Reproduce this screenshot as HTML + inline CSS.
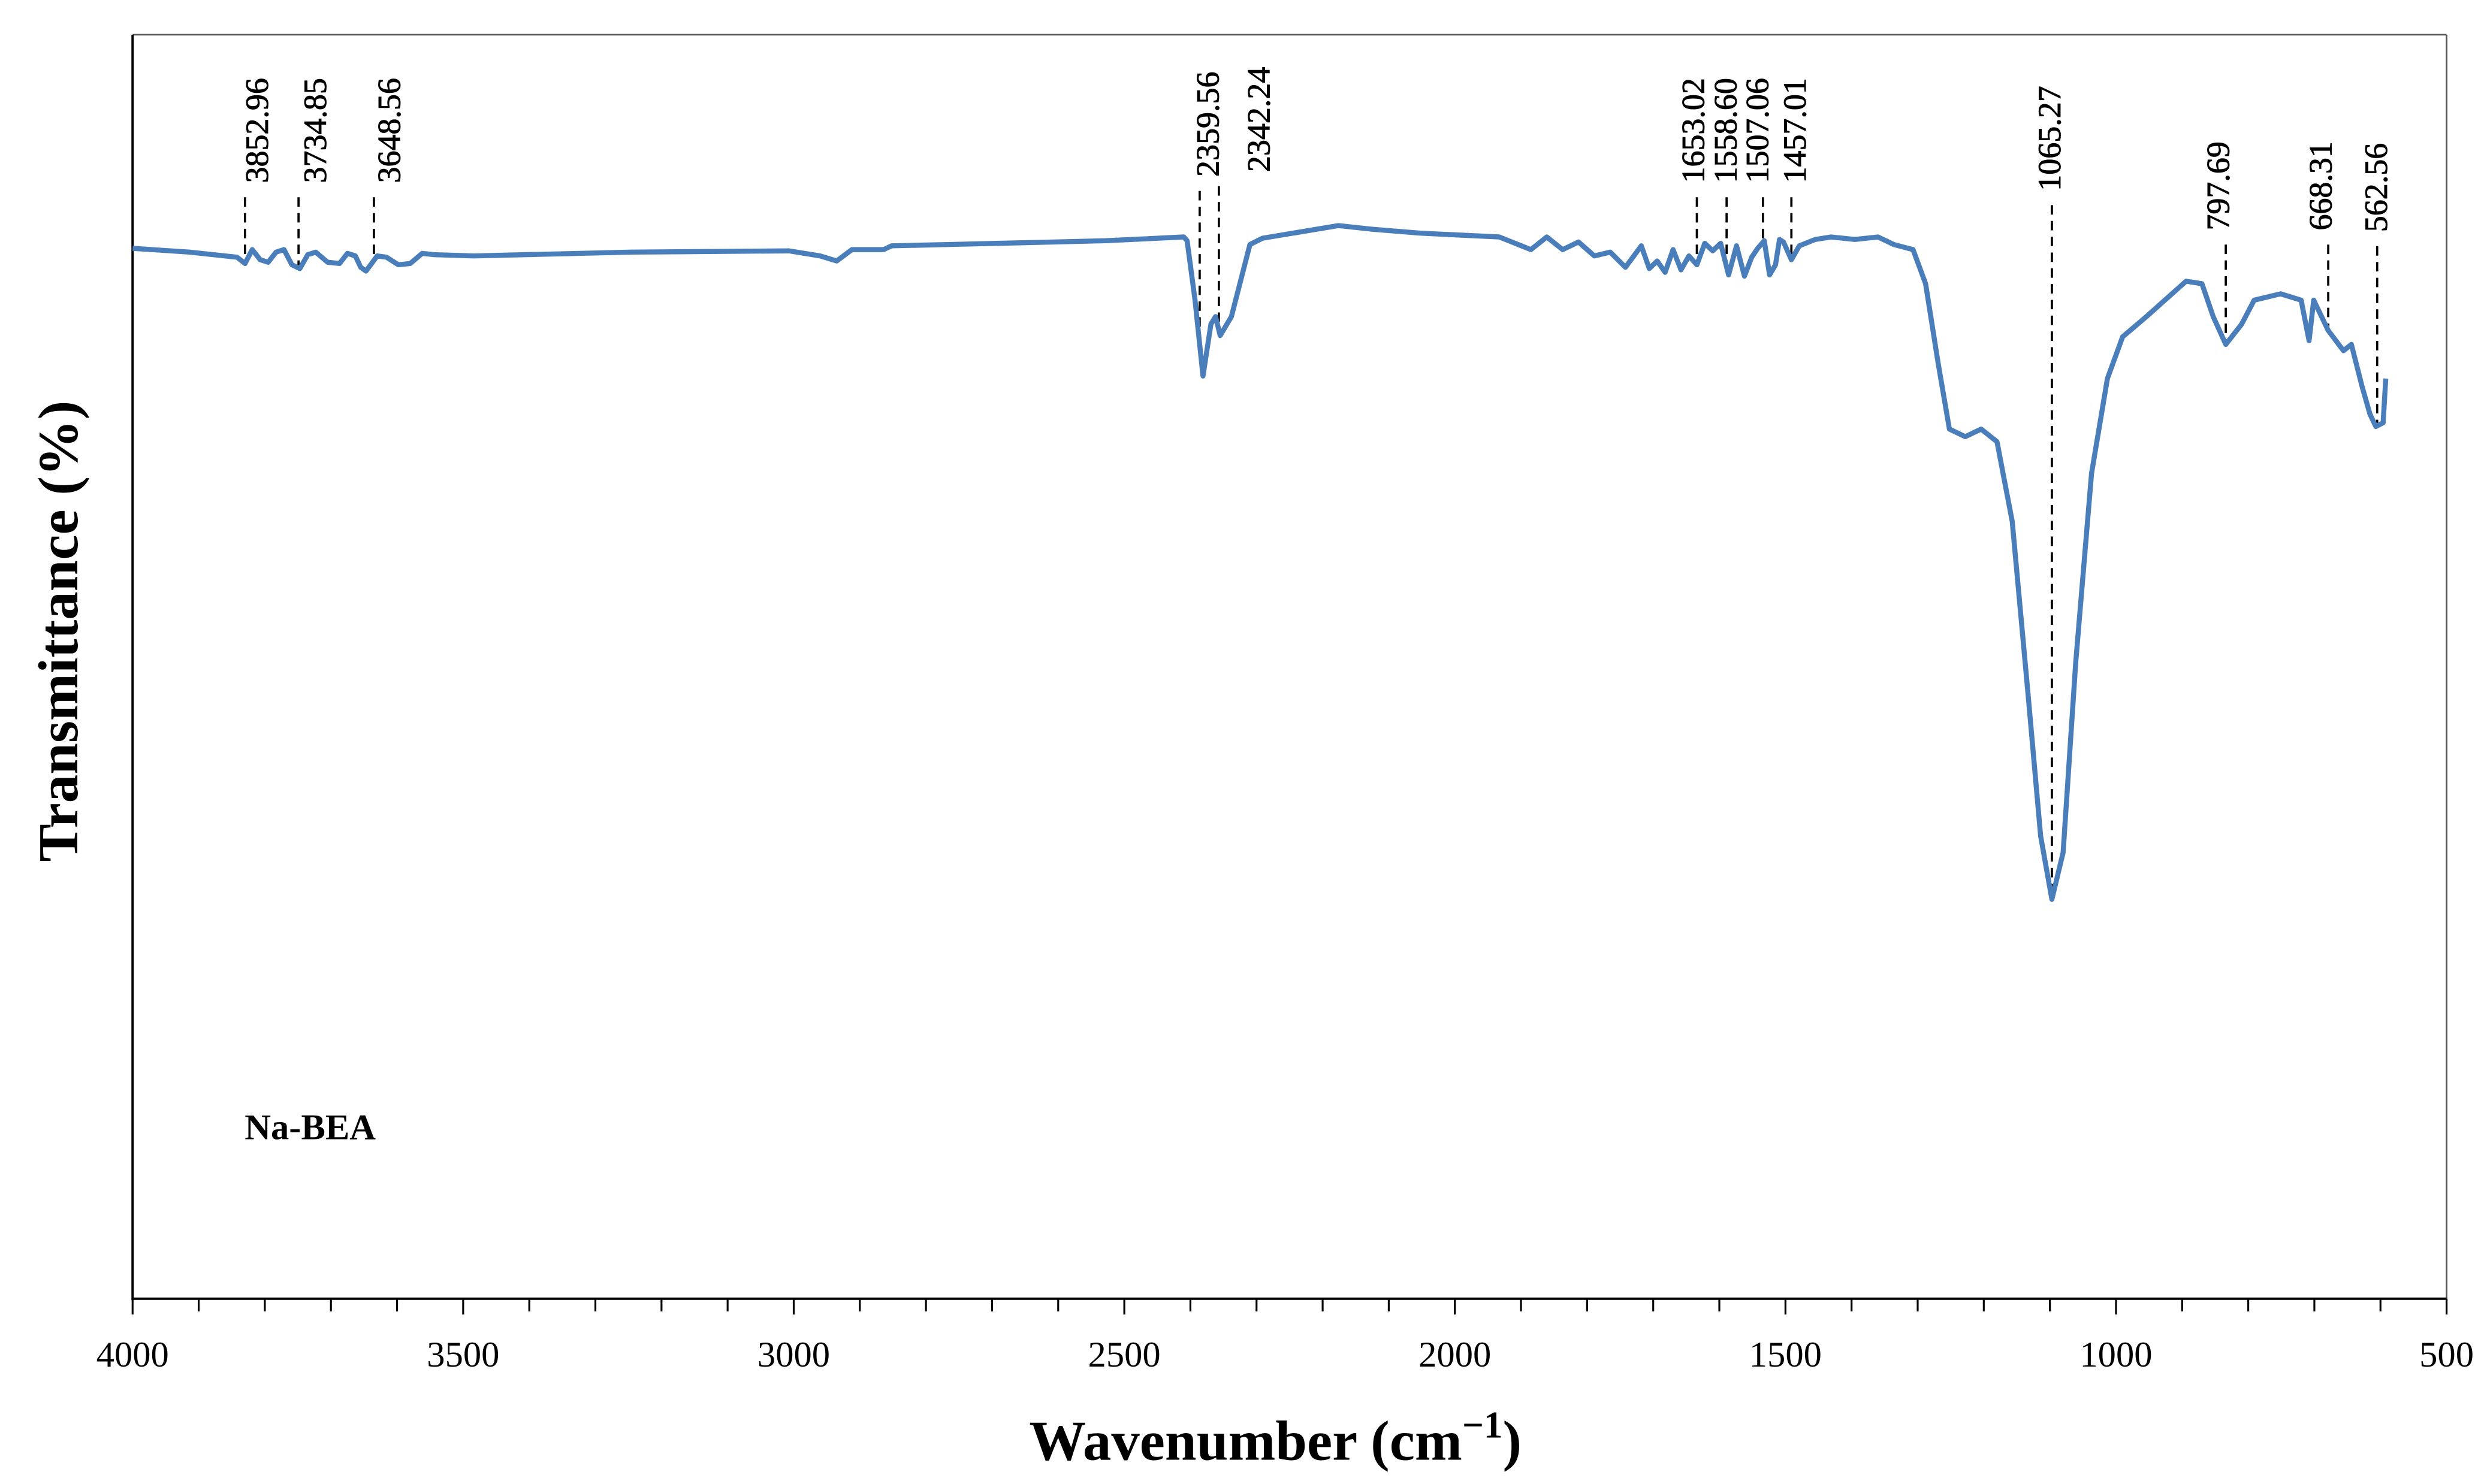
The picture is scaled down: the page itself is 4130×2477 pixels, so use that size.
<!DOCTYPE html>
<html><head><meta charset="utf-8"><style>
html,body{margin:0;padding:0;background:#fff}
svg{display:block}
text{font-family:"Liberation Serif",serif;fill:#000}
</style></head><body>
<svg id="chart" xmlns="http://www.w3.org/2000/svg" width="4130" height="2477" viewBox="0 0 1568 940.4" preserveAspectRatio="none">
<rect x="0" y="0" width="1568" height="940.4" fill="#fff"/>
<g id="frame"></g>
<g id="ticks"></g>
<g id="peaks"></g>
<path id="curve" fill="none" stroke="#4a7ebb" stroke-width="3.2" stroke-linejoin="round"/>
<text x="155" y="722" font-size="23" font-weight="bold">Na-BEA</text>
<text x="808" y="925" font-size="36" font-weight="bold" text-anchor="middle">Wavenumber (cm<tspan font-size="24" dy="-14">−1</tspan><tspan dy="14">)</tspan></text>
<text transform="translate(49,400) rotate(-90)" font-size="36" font-weight="bold" text-anchor="middle">Transmittance (%)</text>
</svg>
<script>
const wavenumbers=[4000,3914,3842,3830,3819,3807,3795,3783,3771,3759,3747,3735,3723,3705,3687,3675,3663,3655,3647,3630,3616,3598,3580,3562,3544,3484,3246,3007,2960,2935,2912,2864,2852,2768,2529,2410,2405,2393,2381,2369,2362,2355,2338,2310,2291,2176,2123,2052,1933,1885,1861,1837,1813,1789,1765,1742,1718,1706,1694,1682,1670,1658,1646,1634,1622,1610,1598,1586,1574,1562,1551,1542,1532,1524,1515,1509,1503,1491,1479,1455,1431,1395,1360,1336,1307,1288,1269,1252,1228,1204,1180,1157,1133,1114,1097,1080,1061,1037,1013,990,954,894,870,853,834,810,791,751,720,708,701,679,656,644,628,616,607,596,592];
const transmittance=[83.1,82.8,82.4,81.9,83.0,82.2,82.0,82.8,83.0,81.8,81.5,82.6,82.8,82.0,81.9,82.7,82.5,81.6,81.3,82.5,82.4,81.8,81.9,82.7,82.6,82.5,82.8,82.9,82.5,82.1,83.0,83.0,83.3,83.4,83.7,84.0,83.7,79.0,73.0,77.1,77.7,76.2,77.7,83.4,83.9,84.9,84.6,84.3,84.0,83.0,84.0,83.0,83.6,82.5,82.8,81.6,83.3,81.5,82.1,81.2,83.0,81.4,82.5,81.8,83.5,82.9,83.5,81.0,83.3,80.9,82.4,83.1,83.7,81.0,81.8,83.8,83.6,82.2,83.3,83.8,84.0,83.8,84.0,83.4,83.0,80.3,74.0,68.8,68.2,68.8,67.8,61.5,47.8,36.6,31.6,35.3,50.3,65.3,72.8,76.1,77.7,80.5,80.3,77.7,75.5,77.1,79.0,79.5,79.0,75.8,79.0,76.6,75.0,75.5,72.2,70.0,69.0,69.3,72.8];
const xTicks=[4000,3500,3000,2500,2000,1500,1000,500];
const peakLabels=["3852.96","3734.85","3648.56","2359.56","2342.24","1653.02","1558.60","1507.06","1457.01","1065.27","797.69","668.31","562.56"];
const peakPositions=[3830,3749,3635,2386,2357,1634,1589,1534,1491,1097,834,679,605];
const labelPositions=[3812,3724,3612,2374,2297,1640,1591,1543,1486,1101,846,691,607];
const labelBottoms=[116,116,116,112,109,116,116,116,116,121,146,146,147];

const L=84,R=1550,T=22,B=823;
const xs=w=>L+(4000-w)/3500*(R-L);
const ys=v=>B-v/100*(B-T);
const NS="http://www.w3.org/2000/svg";
function mk(tag,attrs,parent){const e=document.createElementNS(NS,tag);for(const k in attrs)e.setAttribute(k,attrs[k]);parent.appendChild(e);return e;}
const frame=document.getElementById('frame'),ticks=document.getElementById('ticks'),peaks=document.getElementById('peaks');
let e=mk('line',{x1:L,y1:T,x2:R,y2:T,stroke:'#555','stroke-width':1},frame);

e=mk('line',{x1:R,y1:T,x2:R,y2:B,stroke:'#555','stroke-width':1},frame);

e=mk('line',{x1:L,y1:T,x2:L,y2:B+1,stroke:'#000','stroke-width':1.5},frame);

e=mk('line',{x1:L,y1:B,x2:R,y2:B,stroke:'#000','stroke-width':1.5},frame);

for(let w=4000;w>=500;w-=100){
  const major=w%500===0;
  e=mk('line',{x1:xs(w),y1:B,x2:xs(w),y2:B+(major?10:8),stroke:'#000','stroke-width':1.2},ticks);
  
}
xTicks.forEach(w=>{
  const t=mk('text',{x:xs(w),y:866,'font-size':23,'text-anchor':'middle'},ticks);
  t.textContent=String(w);
  
});
function interp(w){
  for(let i=0;i<wavenumbers.length-1;i++){
    const a=wavenumbers[i],b=wavenumbers[i+1];
    if(w<=a&&w>=b){const f=(a-w)/(a-b);return transmittance[i]+f*(transmittance[i+1]-transmittance[i]);}
  }
  return transmittance[transmittance.length-1];
}
let d='';
wavenumbers.forEach((w,i)=>{d+=(i?'L':'M')+xs(w).toFixed(2)+','+ys(transmittance[i]).toFixed(2);});
document.getElementById('curve').setAttribute('d',d);
peakPositions.forEach((w,i)=>{
  const x=xs(w),yb=labelBottoms[i];
  const ln=mk('line',{x1:x,y1:yb+9,x2:x,y2:ys(interp(w)),stroke:'#000','stroke-width':1.4,'stroke-dasharray':'6,4'},peaks);
  
  
  const t=mk('text',{transform:`translate(${xs(labelPositions[i])+7},${yb}) rotate(-90)`,'font-size':20.5,'stroke':'#000','stroke-width':0.35},peaks);
  t.textContent=peakLabels[i];
  
  
});
</script>
</body></html>
